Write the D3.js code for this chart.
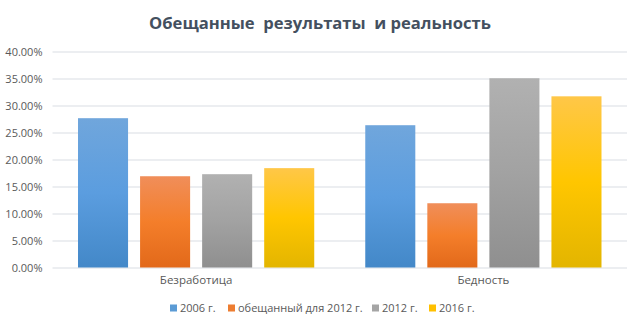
<!DOCTYPE html>
<html><head><meta charset="utf-8">
<script src="https://cdn.jsdelivr.net/npm/d3@7"></script>
<style>html,body{margin:0;padding:0;background:#fff;}svg{display:block;font-family:"Open Sans","Noto Sans",sans-serif;}</style>
</head><body><svg id="c" width="640" height="328"></svg>
<script>
const title = "Обещанные  результаты  и реальность";
const categories = ["Безработица", "Бедность"];
const seriesNames = ["2006 г.", "обещанный для 2012 г.", "2012 г.", "2016 г."];
const s2006 = [0.2765, 0.2635];
const sPromised = [0.169, 0.119];
const s2012 = [0.1728, 0.3505];
const s2016 = [0.184, 0.317];
const yTicks = [0, 0.05, 0.10, 0.15, 0.20, 0.25, 0.30, 0.35, 0.40];

(function () {
const seriesValues = [s2006, sPromised, s2012, s2016];
const gradStops = [
  ["#70a6dc", "#5b9ddf", "#4388c8"],
  ["#f08e5a", "#f47e2a", "#e2691a"],
  ["#b1b1b1", "#a2a2a2", "#8f8f8f"],
  ["#ffc748", "#ffc600", "#e3b500"]
];
const legendColors = ["#5b9bd5", "#ed7d31", "#a5a5a5", "#ffc000"];

const svg = d3.select("#c");
const defs = svg.append("defs");
gradStops.forEach((st, i) => {
  const g = defs.append("linearGradient").attr("id", "g" + i)
    .attr("x1", 0).attr("y1", 0).attr("x2", 0).attr("y2", 1);
  g.append("stop").attr("offset", "0%").attr("stop-color", st[0]);
  g.append("stop").attr("offset", "50%").attr("stop-color", st[1]);
  g.append("stop").attr("offset", "100%").attr("stop-color", st[2]);
});

const pL = 52.5, pR = 627, pT = 51.5, pB = 267.5;
const y = d3.scaleLinear().domain([0, 0.4]).range([pB, pT]);
const x0 = d3.scaleBand().domain(categories).range([pL, pR]).padding(0);
const x1 = d3.scaleBand().domain(d3.range(seriesNames.length)).range([0, x0.bandwidth()])
  .paddingInner(12 / 62).paddingOuter(0.411);

// title
svg.append("text").attr("x", 320).attr("y", 29).attr("text-anchor", "middle")
  .attr("font-size", 16.6).attr("font-weight", "bold").attr("fill", "#44505f")
  .attr("xml:space", "preserve").style("white-space", "pre").text(title);

// gridlines + y labels
const yAxis = d3.axisLeft(y).tickValues(yTicks).tickFormat(d => (d * 100).toFixed(2) + "%")
  .tickSize(-(pR - pL)).tickPadding(10);
const ga = svg.append("g").attr("transform", `translate(${pL},0)`).call(yAxis);
ga.select(".domain").remove();
ga.selectAll(".tick line").attr("stroke", "#d9dde3").attr("stroke-width", 1);
ga.selectAll(".tick text").attr("fill", "#595959").attr("font-size", 11)
  .attr("font-family", "'Open Sans','Noto Sans',sans-serif");

// bars
categories.forEach((c, ci) => {
  seriesValues.forEach((vals, si) => {
    svg.append("rect")
      .attr("x", x0(c) + x1(si))
      .attr("y", y(vals[ci]))
      .attr("width", x1.bandwidth())
      .attr("height", y(0) - y(vals[ci]))
      .attr("fill", `url(#g${si})`);
  });
});

// x axis labels
const xAxis = d3.axisBottom(x0).tickSize(0).tickPadding(8);
const gx = svg.append("g").attr("transform", `translate(0,${pB})`).call(xAxis);
gx.select(".domain").remove();
gx.selectAll(".tick text").attr("fill", "#595959").attr("font-size", 11.5)
  .attr("font-family", "'Open Sans','Noto Sans',sans-serif");

// legend
const legendX = [170, 228, 372, 429];
const lg = svg.append("g");
seriesNames.forEach((n, i) => {
  lg.append("rect").attr("x", legendX[i]).attr("y", 304.5).attr("width", 7).attr("height", 7)
    .attr("fill", legendColors[i]);
  lg.append("text").attr("x", legendX[i] + 10).attr("y", 312).attr("font-size", 11)
    .attr("fill", "#595959").text(n);
});
})();
</script></body></html>
